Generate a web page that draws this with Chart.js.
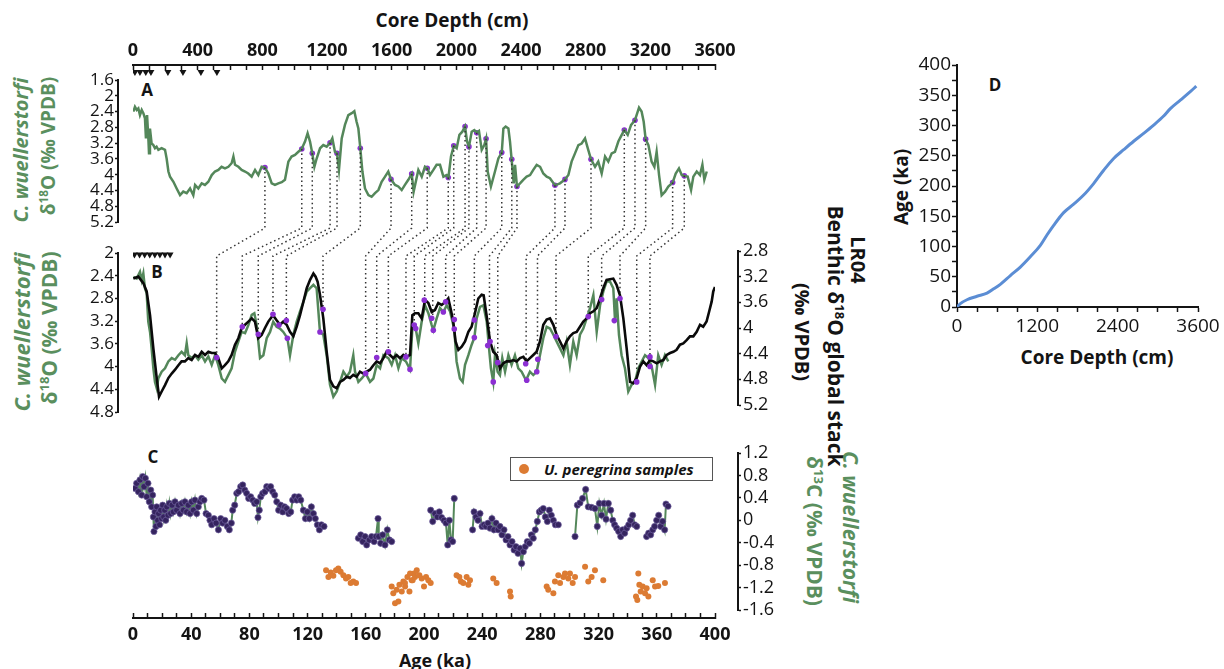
<!DOCTYPE html>
<html><head><meta charset="utf-8">
<script src="https://cdn.jsdelivr.net/npm/chart.js@4.4.1/dist/chart.umd.min.js"></script>
<style>
html,body{margin:0;padding:0;background:#fff;}
body{width:1224px;height:669px;position:relative;overflow:hidden;font-family:'Open Sans',sans-serif;color:#141414;}
canvas{position:absolute;left:0;top:0;}
.lbl{position:absolute;white-space:nowrap;font-weight:700;line-height:1;transform:translate(-50%,-50%);}
.rl{transform:translate(-50%,-50%) rotate(-90deg);}
.rr{transform:translate(-50%,-50%) rotate(90deg);}
.g{color:#5a8f5e;}
sup{font-size:0.62em;line-height:0;vertical-align:0.55em;}
#leg{position:absolute;left:510px;top:457px;width:203px;height:24px;border:1px solid #555;box-sizing:border-box;background:#fff;}
#leg .dot{position:absolute;left:8px;top:6px;width:10px;height:10px;border-radius:50%;background:#dc7b33;}
#leg .tx{position:absolute;left:33px;top:0;line-height:22px;font-style:italic;font-weight:700;font-size:15px;white-space:nowrap;}
</style></head><body>
<script>
// ---------------- DATA ----------------
// Panel A: C. wuellerstorfi d18O vs core depth (cm)
const seriesA = [[2,2.40],[12,2.28],[23,2.36],[33,2.32],[43,2.49],[54,2.36],[64,2.44],[74,2.57],[80,3.08],[87,2.49],[95,3.08],[99,3.46],[105,2.83],[115,3.21],[126,3.25],[136,3.33],[146,3.29],[157,3.37],[177,3.33],[198,3.37],[208,3.59],[219,3.92],[229,4.05],[250,4.18],[270,4.35],[291,4.52],[311,4.43],[332,4.47],[353,4.35],[373,4.52],[384,4.26],[404,4.35],[425,4.22],[445,4.26],[466,4.18],[487,4.01],[507,3.92],[528,3.88],[548,3.80],[569,3.84],[590,3.80],[610,3.71],[621,3.54],[631,3.75],[652,3.80],[672,3.88],[693,3.92],[713,3.97],[734,4.05],[755,3.88],[775,4.01],[796,3.80],[816,3.82],[837,3.97],[858,4.22],[878,4.26],[899,4.22],[920,4.19],[940,4.13],[961,3.67],[981,3.54],[1002,3.50],[1023,3.42],[1043,3.35],[1064,3.16],[1080,2.95],[1095,3.16],[1109,3.46],[1122,3.80],[1136,3.59],[1157,3.33],[1177,3.25],[1198,3.29],[1219,3.19],[1233,3.08],[1249,3.42],[1262,3.46],[1274,3.88],[1291,3.08],[1311,2.74],[1332,2.49],[1353,2.44],[1369,2.39],[1383,2.66],[1394,2.83],[1406,3.33],[1419,3.92],[1435,4.35],[1456,4.52],[1476,4.56],[1497,4.47],[1518,4.39],[1538,4.18],[1559,4.05],[1579,3.92],[1596,4.12],[1621,4.26],[1641,4.30],[1662,4.39],[1682,4.26],[1703,4.13],[1724,3.98],[1736,4.43],[1765,3.88],[1786,4.05],[1806,3.80],[1821,3.84],[1837,4.01],[1858,3.88],[1878,3.75],[1899,3.75],[1920,4.05],[1940,4.01],[1951,4.07],[1967,3.54],[1984,3.27],[2002,3.33],[2019,2.99],[2037,2.91],[2054,2.78],[2066,3.16],[2078,3.29],[2095,2.91],[2111,2.87],[2126,2.93],[2140,2.89],[2157,3.37],[2173,3.25],[2184,3.09],[2194,3.92],[2214,4.30],[2239,3.92],[2260,3.59],[2281,3.44],[2291,2.83],[2305,2.78],[2322,2.83],[2332,3.16],[2342,3.61],[2355,4.22],[2363,3.75],[2375,4.30],[2394,4.22],[2414,4.13],[2435,4.05],[2456,4.01],[2476,3.88],[2497,3.75],[2518,3.80],[2538,3.97],[2559,4.05],[2579,4.09],[2610,4.27],[2641,4.22],[2672,4.12],[2693,4.01],[2713,3.67],[2734,3.46],[2755,3.25],[2775,3.21],[2796,3.08],[2816,3.37],[2833,3.61],[2858,3.80],[2878,3.67],[2899,3.97],[2920,3.54],[2940,3.67],[2961,3.46],[2981,3.42],[3002,3.16],[3023,2.99],[3039,2.87],[3060,2.99],[3081,2.74],[3105,2.62],[3130,2.30],[3146,2.40],[3159,2.66],[3171,3.10],[3188,3.25],[3208,3.67],[3225,3.80],[3239,3.42],[3254,4.01],[3270,4.52],[3291,4.43],[3311,4.30],[3338,4.20],[3357,3.97],[3377,3.84],[3394,4.01],[3410,4.03],[3431,4.05],[3452,4.39],[3466,4.05],[3487,3.92],[3507,4.01],[3522,3.75],[3534,4.13],[3549,3.92]];

// Dated intervals (triangles)
const datedDepths = [12,43,79,111,216,309,420,519];
const datedAges = [1,4.5,8,11.5,15,18.5,22,25.5];

// Tie points: depth in A <-> age in B
const tieDepth = [816,1044,1109,1219,1262,1406,1596,1724,1820,1950,1984,2054,2078,2126,2184,2281,2343,2375,2610,2672,2833,3039,3105,3171,3338,3410];
const tieA = [3.82,3.35,3.46,3.19,3.46,3.33,4.12,3.98,3.84,4.07,3.27,2.78,3.29,2.94,3.09,3.44,3.61,4.30,4.27,4.12,3.61,2.87,2.62,3.10,4.20,4.03];
const tieAge = [57.5,75.1,86.1,96.2,105.4,130.6,159.9,167.5,175.5,187.6,193.3,200.5,206,214.9,220.8,234.6,245,250.7,270.2,278,290.7,312.9,322.1,334.7,346.2,355.3];
const tieB = [3.84,3.30,3.43,3.08,3.19,2.99,4.12,3.84,3.74,3.83,3.27,2.83,3.15,2.86,3.17,3.18,3.56,3.93,3.95,3.87,3.47,3.12,2.82,2.80,4.27,3.83];
const tieDotsB = [[57.5,3.84],[75.1,3.30],[86.1,3.43],[96.2,3.08],[100.3,3.27],[105.4,3.19],[106.1,3.50],[130.6,2.99],[128.5,3.39],[159.9,4.12],[167.5,3.84],[175.5,3.74],[187.6,3.83],[190.4,4.05],[193.3,3.27],[194.3,3.33],[200.2,2.83],[205.3,3.15],[206.4,3.36],[213.3,3.04],[214.9,2.86],[220.8,3.17],[220.8,3.34],[234.6,3.18],[234.6,3.49],[243.8,3.63],[245.4,3.56],[250.7,3.93],[247.6,4.27],[269.9,3.95],[270.6,4.24],[277.5,4.09],[278.2,3.87],[290.7,3.47],[312.9,3.12],[322.1,2.82],[334.7,2.80],[330.8,3.19],[346.2,4.27],[355.3,3.83],[355.3,4.00]];

// Panel B: C. wuellerstorfi d18O vs age (ka)
const seriesB = [[0.2,2.42],[2.5,2.45],[4.8,2.33],[6,2.48],[7.1,2.36],[8.2,2.62],[9.4,2.71],[10.5,3.21],[11.7,3.39],[12.8,3.68],[14,4.03],[15.1,4.27],[16.3,4.38],[17.4,4.21],[19.7,4.09],[22,4.03],[24.3,3.91],[26.6,3.85],[28.9,3.88],[31.2,3.80],[33.4,3.74],[35.7,3.80],[36.9,3.59],[38,3.80],[40.3,3.85],[42.6,3.80],[44.9,3.88],[47.2,3.80],[49.5,3.91],[51.8,3.82],[54.1,3.97],[56.4,3.80],[58.6,3.97],[61,4.21],[63.2,4.27],[65.5,4.15],[67.8,4.03],[70.1,3.74],[72.4,3.56],[74.7,3.39],[77,3.41],[79.3,3.27],[81.6,3.09],[83.4,3.06],[85,3.27],[87.3,3.85],[89.6,3.80],[91.9,3.50],[94.2,3.39],[96.4,3.21],[98.7,3.30],[101,3.33],[103.3,3.39],[106.1,3.50],[107.9,3.80],[110.2,3.44],[112.5,3.21],[114.8,3.03],[117.1,2.86],[119.4,2.68],[121.7,2.62],[124,2.56],[126.2,2.62],[128.5,3.39],[130.8,3.44],[133.1,3.80],[135.4,4.32],[137.7,4.53],[140,4.44],[142.3,4.27],[144.6,4.09],[146.9,4.18],[149.1,4.09],[151.4,3.80],[152.6,4.09],[154.9,4.27],[157.2,4.21],[159.9,4.12],[162.9,4.27],[165.2,4.21],[167.5,3.97],[169.8,4.03],[172.1,3.80],[175.5,3.85],[177.8,3.97],[180.1,3.80],[182.4,4.03],[184.6,3.85],[187.6,3.91],[190.4,4.05],[192,3.33],[194.3,3.33],[196.1,3.59],[198.4,3.21],[200.7,2.92],[203,3.06],[205.3,3.27],[206.4,3.36],[208.7,3.15],[211,2.97],[213.3,3.04],[215.6,2.92],[217.9,3.03],[220.8,3.34],[222.4,3.91],[224.7,4.21],[226.6,4.27],[228.2,3.97],[230.5,3.80],[232.7,3.62],[234.6,3.49],[236.2,3.15],[238.5,2.95],[240.8,2.92],[243.1,3.21],[244.7,3.68],[246,4.03],[247.6,4.27],[248.8,3.80],[250.6,4.09],[252.2,4.15],[253.8,3.85],[255.7,4.09],[258,3.80],[260.2,3.97],[262.5,3.80],[264.8,4.03],[267.1,4.09],[270.1,4.24],[272.8,4.09],[275.1,4.15],[277.4,4.09],[279.7,3.80],[282,3.50],[284.3,3.30],[286.6,3.33],[288.9,3.44],[291.2,3.56],[293.5,3.68],[295.8,3.80],[298,3.56],[300.3,3.97],[302.6,3.56],[304.9,3.80],[307.2,3.44],[309.5,3.33],[311.8,3.15],[314.1,2.97],[316.4,2.74],[318.7,3.39],[321,2.92],[323.2,2.68],[325.5,2.50],[327.8,2.50],[330.1,2.62],[331.3,3.19],[332.4,2.80],[334,3.44],[335.8,3.80],[338.1,4.03],[340.4,4.44],[342.7,4.32],[345,4.27],[347.3,4.03],[349.6,3.91],[351.9,3.80],[354.2,3.85],[356.5,4.00],[358.8,4.32],[361,3.80],[363.3,3.97],[365.6,3.80],[367.9,3.91]];

// Panel B: LR04 benthic d18O global stack vs age (ka)
const seriesLR04 = [[0.2,3.23],[3.7,3.20],[7.1,3.30],[9.4,3.43],[11.7,3.80],[14,4.32],[16.3,4.78],[17.9,5.07],[19.7,4.99],[22,4.89],[24.3,4.78],[26.6,4.71],[28.9,4.65],[31.2,4.58],[33.4,4.52],[35.7,4.52],[38,4.47],[40.3,4.50],[42.6,4.42],[44.9,4.45],[47.2,4.37],[49.5,4.42],[51.8,4.37],[54.1,4.39],[56.4,4.39],[58.6,4.47],[61,4.63],[63.2,4.58],[65.5,4.52],[67.8,4.42],[70.1,4.26],[72.4,4.16],[74.7,4.00],[77,3.95],[79.3,3.90],[81.6,3.85],[83.8,3.90],[86.1,4.16],[88.4,4.11],[90.7,4.00],[93,3.90],[96.2,3.80],[98.7,3.88],[101,3.95],[103.3,3.90],[105.6,3.95],[107.9,4.06],[110.2,4.13],[112.5,3.98],[114.8,3.80],[117.1,3.59],[119.4,3.38],[121.7,3.25],[124,3.15],[125.5,3.20],[126.9,3.28],[128.5,3.48],[130.8,3.85],[133.1,4.37],[135.4,4.81],[137.7,4.91],[140,4.94],[142.3,4.84],[144.6,4.81],[146.9,4.76],[149.1,4.78],[151.4,4.73],[153.7,4.76],[156,4.68],[158.3,4.71],[160.6,4.68],[162.9,4.65],[165.2,4.58],[167.5,4.52],[169.8,4.55],[172.1,4.47],[174.3,4.37],[176.6,4.42],[178.9,4.47],[181.2,4.42],[183.5,4.47],[185.8,4.42],[188.1,4.45],[190.4,4.42],[192,3.80],[193.8,3.77],[196.1,3.77],[198.4,3.85],[200.7,3.56],[203,3.61],[205.3,3.75],[207.5,3.72],[209.8,3.61],[212.1,3.64],[214.9,3.59],[216.7,3.54],[218.5,3.72],[220.1,3.90],[221.7,4.21],[223.6,4.34],[225.9,4.29],[228.2,4.21],[230.5,4.06],[232.7,3.98],[235,3.77],[237.3,3.54],[239.6,3.48],[241,3.49],[243.1,3.82],[245.4,4.21],[247.6,4.37],[249.9,4.42],[252.2,4.63],[254.5,4.55],[256.8,4.52],[259.1,4.52],[261.4,4.50],[263.7,4.52],[266,4.47],[268.3,4.45],[270.5,4.52],[272.8,4.47],[275.1,4.42],[277.4,4.37],[279.7,4.21],[282,3.95],[284.3,3.87],[286.6,3.85],[288.9,3.95],[291.2,4.11],[293.5,4.21],[295.8,4.32],[298,4.21],[300.3,4.13],[302.6,4.08],[304.9,4.06],[307.2,3.98],[309.5,3.90],[311.8,3.85],[314.1,3.77],[316.4,3.74],[318.7,3.69],[321,3.54],[323.2,3.38],[325.5,3.25],[327.8,3.24],[330.1,3.23],[332.4,3.33],[334.7,3.49],[337,3.85],[339.3,4.32],[341.6,4.84],[343.9,4.86],[346.2,4.78],[348.5,4.60],[350.7,4.52],[353,4.58],[355.3,4.50],[357.6,4.52],[359.9,4.55],[362.2,4.52],[364.5,4.50],[366.8,4.42],[369.1,4.39],[371.4,4.37],[373.6,4.34],[375.9,4.26],[378.2,4.24],[380.5,4.19],[382.8,4.13],[385.1,4.13],[387.4,4.06],[389.7,3.95],[391.9,3.98],[394.2,3.90],[395.9,3.75],[397.7,3.59],[398.8,3.43],[400,3.36]];

// Panel C: C. wuellerstorfi d13C vs age (null = gap)
const seriesD13C = [[1.4,0.57],[2.5,0.66],[3.7,0.51],[4.8,0.72],[6,0.45],[6.7,0.78],[7.6,0.60],[8.5,0.75],[9.4,0.42],[10.3,0.66],[11.2,0.33],[12.2,0.54],[12.8,0.24],[13.5,0.45],[14,0.06],[14.4,-0.20],[15.1,0.15],[15.8,-0.11],[16.3,0.24],[17,0.00],[17.6,0.12],[18.3,-0.08],[19,0.18],[19.7,0.03],[20.4,0.27],[21.1,0.06],[21.8,0.18],[22.5,0.00],[23.2,0.24],[24.1,0.09],[25,0.30],[25.9,0.12],[26.8,0.27],[27.7,0.15],[28.9,0.33],[30,0.18],[31.2,0.27],[32.3,0.12],[33.5,0.30],[34.6,0.18],[35.7,0.33],[36.9,0.15],[38,0.27],[39.2,0.12],[40.3,0.33],[41.5,0.18],[42.6,0.36],[43.8,0.12],[44.9,0.24],[46,0.33],[47.2,0.39],[48.8,0.36],[50.2,0.12],[51.8,0.09],[52.9,0.00],[54.1,-0.08],[55.7,0.03],[57.1,-0.05],[58.7,-0.17],[60.3,0.03],[61.6,-0.05],[63.2,0.00],[64.8,-0.11],[66.2,-0.17],[67.6,-0.05],[68.5,0.18],[69.9,0.27],[71.3,0.48],[72.6,0.51],[74,0.60],[75.4,0.63],[76.8,0.54],[78.1,0.48],[79.5,0.39],[80.9,0.42],[82.3,0.36],[83.6,0.30],[85,0.33],[85.9,0.05],[86.8,0.18],[87.8,0.42],[89.1,0.48],[90.7,0.51],[91.9,0.60],[93.3,0.57],[94.6,0.60],[96,0.51],[97.4,0.45],[98.8,0.33],[100.1,0.18],[101.5,0.27],[102.9,0.15],[104.2,0.24],[105.6,0.21],[107,0.12],[108.4,0.15],[109.7,0.36],[111.1,0.42],[112.5,0.36],[113.9,0.42],[115.3,0.36],[117.1,0.18],[118.5,0.03],[119.8,0.15],[121.2,0.03],[122.6,0.24],[124,0.12],[125.3,0.03],[126.7,-0.08],[128.1,-0.17],[129.5,-0.08],[131.3,-0.11],[140,null],
[154.9,-0.32],[156.5,-0.26],[157.9,-0.38],[159.5,-0.29],[160.6,-0.44],[162.4,-0.35],[164,-0.29],[165.7,-0.38],[167,-0.29],[168.4,0.03],[168.9,-0.29],[170.2,-0.41],[171.6,-0.26],[173.2,-0.44],[174.8,-0.17],[176.2,-0.35],[177.8,-0.38],[190,null],
[204.6,0.18],[206,-0.02],[207.6,0.12],[209.2,0.06],[210.5,0.15],[212.1,0.05],[213.7,0.00],[215.1,-0.05],[216.3,-0.44],[217.4,0.00],[218.6,-0.35],[219.7,-0.38],[220.8,0.39],[227,null],
[233.4,-0.17],[234.4,0.15],[235.7,0.06],[237.1,0.00],[238.5,0.12],[239.9,-0.11],[241.2,-0.08],[242.6,-0.11],[244,-0.05],[245.4,-0.14],[246.7,0.03],[248.1,-0.17],[249.5,-0.05],[250.9,-0.17],[252.2,-0.11],[253.6,-0.26],[255,-0.17],[256.4,-0.35],[257.7,-0.29],[259.1,-0.44],[260.5,-0.38],[261.9,-0.53],[263.2,-0.47],[264.6,-0.59],[266,-0.50],[267.1,-0.77],[268.3,-0.56],[269.6,-0.47],[271,-0.38],[272.4,-0.41],[273.8,-0.26],[275.1,-0.32],[276.5,-0.17],[277.9,-0.02],[279.3,0.15],[280.6,0.18],[282,0.21],[283.4,0.06],[284.8,-0.02],[286.1,0.18],[287.5,0.09],[288.9,0.00],[290.3,-0.08],[292.3,-0.08],[298,null],
[303.8,-0.29],[305.4,0.27],[307.2,0.31],[309,0.39],[311.1,0.55],[312.9,0.24],[315.2,0.23],[317.5,0.21],[319.1,-0.11],[320.5,0.30],[322.1,0.09],[323.7,0.30],[325.1,0.02],[326.7,0.30],[328.3,0.18],[329.7,0.00],[331,-0.08],[332.4,-0.14],[333.8,-0.20],[335.2,-0.29],[336.5,-0.17],[337.9,-0.23],[339.3,-0.14],[340.7,-0.08],[342,0.00],[343.4,0.09],[344.8,-0.08],[346.2,-0.11],[350,null],
[353,-0.29],[354.4,-0.23],[355.8,-0.26],[357.2,-0.17],[358.5,-0.11],[359.9,0.00],[361.3,0.09],[362.7,-0.11],[364,-0.02],[365.4,-0.17],[366.3,0.29],[367.7,0.25]];

// Panel C: U. peregrina samples
const seriesUPer = [[132.7,-0.89],[134.3,-1.01],[135.9,-0.93],[137.7,-0.99],[139.5,-0.89],[141.1,-0.86],[142.7,-0.92],[144.6,-0.98],[146.4,-1.04],[148,-1.01],[149.6,-1.12],[151.4,-1.09],[153.3,-1.12],[177.8,-1.18],[178.9,-1.30],[180.1,-1.48],[182.4,-1.45],[181.2,-1.24],[183.1,-1.15],[184.7,-1.27],[185.8,-1.09],[187,-1.18],[188.6,-1.01],[190,-1.27],[191.5,-1.07],[193.1,-0.95],[195,-0.89],[186.9,-1.12],[190.4,-0.95],[192.2,-1.07],[193.8,-1.01],[196.8,-0.98],[198.4,-1.04],[200,-1.18],[201.4,-1.01],[203,-1.07],[204.6,-1.12],[222.4,-0.98],[224.3,-1.01],[225.4,-1.09],[227,-1.12],[229.3,-1.01],[230.5,-1.15],[231.6,-1.07],[247.6,-1.04],[249.9,-1.12],[259.1,-1.27],[259.6,-1.36],[284.3,-1.18],[285.4,-1.24],[288.9,-1.30],[290,-1.09],[292.3,-0.98],[293.5,-1.12],[295.8,-1.01],[296.9,-0.95],[299.2,-1.04],[300.3,-0.95],[302.2,-1.12],[303.8,-1.01],[310.7,-0.83],[312.9,-1.09],[315.2,-1.01],[317.5,-0.89],[323.2,-1.07],[347.3,-0.95],[348,-1.15],[348.9,-1.27],[345.7,-1.36],[346.6,-1.42],[350.3,-1.18],[351.9,-1.30],[353,-1.21],[354.2,-1.36],[357.2,-1.07],[358.8,-1.18],[361,-1.17],[365.6,-1.12]];

// Panel D: age model (depth cm -> age ka)
const ageModel = [[0,0],[50,5.5],[149,12],[299,17.7],[448,23],[548,30],[647,37.5],[797,52],[946,66],[1095,83],[1245,102],[1344,119],[1444,135],[1593,156],[1743,170],[1892,185],[2041,204],[2191,226],[2340,245.5],[2490,260],[2639,274],[2788,287],[2938,300.7],[3087,315.6],[3187,328],[3336,342],[3485,356],[3575,365]];

// Tick labels
const depthTicks = [0,400,800,1200,1600,2000,2400,2800,3200,3600];
const ageTicks = [0,40,80,120,160,200,240,280,320,360,400];
const d18OTicksA = [1.6,2,2.4,2.8,3.2,3.6,4,4.4,4.8,5.2];
const d18OTicksB = [2,2.4,2.8,3.2,3.6,4,4.4,4.8];
const lr04Ticks = [2.8,3.2,3.6,4,4.4,4.8,5.2];
const d13CTicks = [-1.6,-1.2,-0.8,-0.4,0,0.4,0.8,1.2];
const ageModelTicks = [0,50,100,150,200,250,300,350,400];
const depthTicksD = [0,1200,2400,3600];
</script>

<div class="lbl" style="left:452px;top:20px;font-size:19px">Core Depth (cm)</div>
<div class="lbl g rl" style="left:21px;top:150px;font-size:20px;font-style:italic">C. wuellerstorfi</div>
<div class="lbl g rl" style="left:48px;top:146px;font-size:19px">&delta;<sup>18</sup>O (&permil; VPDB)</div>
<div class="lbl g rl" style="left:21px;top:332px;font-size:22px;font-style:italic">C. wuellerstorfi</div>
<div class="lbl g rl" style="left:49px;top:328px;font-size:21px">&delta;<sup>18</sup>O (&permil; VPDB)</div>
<div class="lbl rr" style="left:858px;top:260px;font-size:20px">LR04</div>
<div class="lbl rr" style="left:835px;top:336px;font-size:21px">Benthic &delta;<sup>18</sup>O global stack</div>
<div class="lbl rr" style="left:802px;top:332px;font-size:20px">(&permil; VPDB)</div>
<div class="lbl g rr" style="left:850px;top:527px;font-size:21px;font-style:italic">C. wuellerstorfi</div>
<div class="lbl g rr" style="left:814px;top:531px;font-size:21px">&delta;<sup>13</sup>C (&permil; VPDB)</div>
<div class="lbl" style="left:435px;top:660px;font-size:18px">Age (ka)</div>
<div class="lbl rl" style="left:901px;top:187px;font-size:19px">Age (ka)</div>
<div class="lbl" style="left:1097px;top:357px;font-size:19px">Core Depth (cm)</div>
<div class="lbl" style="left:147px;top:89px;font-size:17px">A</div>
<div class="lbl" style="left:157px;top:271px;font-size:17px">B</div>
<div class="lbl" style="left:153px;top:456px;font-size:17px">C</div>
<div class="lbl" style="left:995px;top:84px;font-size:17px">D</div>
<div id="leg"><span class="dot"></span><span class="tx">U. peregrina samples</span></div>

<script>
Chart.defaults.font.family = "'Open Sans', sans-serif";
const W = 1224, H = 669;
const INK = '#141414', GREEN = '#54875a', TIEP = '#8b2fd2', CPUR = '#35245f', ORANGE = '#dc7b33', BLUE = '#5b8dd4';

function canvas() {
  const c = document.createElement('canvas');
  c.width = W; c.height = H;
  document.body.insertBefore(c, document.getElementById('leg'));
  return c;
}
function pts(arr) { return arr.map(p => ({x: p[0], y: p[1]})); }
function withMinors(major, n) {
  const out = [];
  for (let i = 0; i < major.length - 1; i++)
    for (let k = 0; k < n; k++) out.push(+(major[i] + (major[i + 1] - major[i]) * k / n).toFixed(6));
  out.push(major[major.length - 1]);
  return out;
}
function hidden(min, max, reverse) { return {type: 'linear', display: false, min, max, reverse: !!reverse}; }
function axis(o) {
  const vertical = o.pos === 'left' || o.pos === 'right';
  const all = o.minor ? withMinors(o.major, o.minor) : o.major.slice();
  return {
    type: 'linear', position: o.pos, min: o.min, max: o.max, reverse: !!o.reverse,
    afterBuildTicks: s => { s.ticks = all.map(v => ({value: v})); },
    afterFit: s => { if (vertical) s.width = o.fit; else s.height = o.fit; },
    ticks: {autoSkip: false, maxRotation: 0, minRotation: 0, padding: o.pad, color: INK, font: o.font,
      callback: v => (o.major.includes(v) ? String(v) : '')},
    grid: {display: true, drawOnChartArea: false, drawTicks: true, tickLength: o.tl, tickColor: INK, tickWidth: 1.5},
    border: {display: true, color: INK, width: 2}
  };
}
function make(padding, scales, datasets, plugins) {
  return new Chart(canvas(), {
    type: 'scatter',
    data: {datasets},
    options: {
      responsive: false, animation: false, devicePixelRatio: 1, events: [],
      layout: {padding},
      plugins: {legend: {display: false}, tooltip: {enabled: false}},
      scales
    },
    plugins: plugins || []
  });
}
function area(l, t, r, b) { return {left: l, top: t, right: W - r, bottom: H - b}; }
const line = (data, color, w) => ({data: pts(data), showLine: true, borderColor: color, borderWidth: w, pointRadius: 0, tension: 0});
const dots = (data, color, r) => ({data: pts(data), showLine: false, pointRadius: r, pointBackgroundColor: color, pointBorderWidth: 0});
const tri = (xs) => ({data: xs.map(x => ({x, y: 0.5})), showLine: false, pointStyle: 'triangle', rotation: 180, pointRadius: 4, pointBackgroundColor: INK, pointBorderWidth: 0});

// ---------- Panel D ----------
make({left: 957 - 60, top: 65, right: W - 1198, bottom: H - 307 - 40}, {
  x: axis({pos: 'bottom', min: 0, max: 3600, major: depthTicksD, minor: 4, fit: 40, font: {size: 19}, tl: 5, pad: 3}),
  y: axis({pos: 'left', min: 0, max: 400, major: ageModelTicks, minor: 2, fit: 60, font: {size: 19}, tl: 5, pad: 1})
}, [{data: pts(ageModel), showLine: true, borderColor: BLUE, borderWidth: 3, pointRadius: 0, cubicInterpolationMode: 'monotone'}]);

// ---------- Panel A ----------
make({left: 133, top: 0, right: W - 715, bottom: H - 222}, {
  x: axis({pos: 'top', min: 0, max: 3600, major: depthTicks, minor: 4, fit: 65, font: {size: 18, weight: 'bold'}, tl: -5, pad: 8}),
  y: hidden(1.6, 5.2, true)
}, []);
make({left: 118 - 60, top: 80, right: W - 715, bottom: H - 222}, {
  x: hidden(0, 1),
  y: axis({pos: 'left', min: 1.6, max: 5.2, reverse: true, major: d18OTicksA, fit: 60, font: {size: 17}, tl: 3, pad: 1})
}, []);
// dated-interval markers strip (depth)
make(area(133, 66, 715, 78), {x: hidden(0, 3600), y: hidden(0, 1)}, [tri(datedDepths)]);
const cA = make(area(133, 80, 715, 222), {x: hidden(0, 3600), y: hidden(1.6, 5.2, true)}, [
  line(seriesA, GREEN, 2.5),
  dots(tieDepth.map((d, i) => [d, tieA[i]]), TIEP, 2.8)
]);

// ---------- Panel B ----------
make({left: 118 - 60, top: 253, right: W - 715, bottom: H - 412}, {
  x: hidden(0, 1),
  y: axis({pos: 'left', min: 2, max: 4.8, reverse: true, major: d18OTicksB, fit: 60, font: {size: 17}, tl: 3, pad: 1})
}, []);
make({left: 133, top: 251, right: W - 738 - 60, bottom: H - 405}, {
  x: hidden(0, 1),
  y: axis({pos: 'right', min: 2.8, max: 5.2, reverse: true, major: lr04Ticks, fit: 60, font: {size: 18}, tl: 3, pad: 2})
}, []);
const tiePlugin = {
  id: 'ties',
  beforeDatasetsDraw(chart) {
    const ax = cA.scales.x, ay = cA.scales.y, bx = chart.scales.x, by = chart.scales.y;
    const yA = cA.chartArea.bottom + 6, yB = chart.chartArea.top + 3;
    const ctx = chart.ctx;
    ctx.save();
    ctx.strokeStyle = '#333'; ctx.lineWidth = 1.5; ctx.setLineDash([1.5, 3]);
    for (let i = 0; i < tieDepth.length; i++) {
      const x1 = ax.getPixelForValue(tieDepth[i]), y1 = ay.getPixelForValue(tieA[i]);
      const x2 = bx.getPixelForValue(tieAge[i]), y2 = by.getPixelForValue(tieB[i]);
      ctx.beginPath(); ctx.moveTo(x1, y1); ctx.lineTo(x1, yA); ctx.lineTo(x2, yB); ctx.lineTo(x2, y2); ctx.stroke();
    }
    ctx.restore();
  }
};
make(area(133, 253, 715, 412), {x: hidden(0, 400), y: hidden(2, 4.8, true)}, [line(seriesB, GREEN, 2.5)], [tiePlugin]);
make(area(133, 251, 715, 405), {x: hidden(0, 400), y: hidden(2.8, 5.2, true)}, [line(seriesLR04, '#0a0a0a', 2.6)]);
make(area(133, 253, 715, 412), {x: hidden(0, 400), y: hidden(2, 4.8, true)}, [dots(tieDotsB, TIEP, 2.8)]);
// dated-interval markers strip (age)
make(area(133, 249, 715, 260), {x: hidden(0, 400), y: hidden(0, 1)}, [tri(datedAges)]);

// ---------- Panel C ----------
make({left: 133, top: 453, right: W - 738 - 60, bottom: H - 610}, {
  x: hidden(0, 1),
  y: axis({pos: 'right', min: -1.6, max: 1.2, major: d13CTicks, fit: 60, font: {size: 18}, tl: 3, pad: 2})
}, []);
make({left: 133, top: 453, right: W - 715, bottom: H - 618 - 45}, {
  x: axis({pos: 'bottom', min: 0, max: 400, major: ageTicks, minor: 4, fit: 45, font: {size: 18, weight: 'bold'}, tl: -5, pad: 11}),
  y: hidden(0, 1)
}, []);
make(area(133, 453, 715, 610), {x: hidden(0, 400), y: hidden(-1.6, 1.2)}, [
  {data: pts(seriesD13C), showLine: true, spanGaps: false, borderColor: GREEN, borderWidth: 2, pointRadius: 3.1,
   pointBackgroundColor: CPUR, pointBorderColor: '#6f5f9e', pointBorderWidth: 0.7},
  dots(seriesUPer, ORANGE, 3)
]);
</script>
</body></html>
